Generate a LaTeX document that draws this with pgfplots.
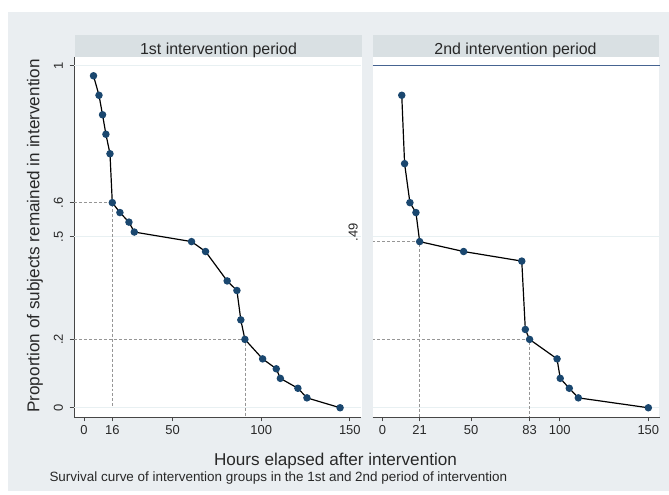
\documentclass[border=0pt]{standalone}
\usepackage{fontspec}
\setmainfont{Liberation Sans}
\usepackage{pgfplots}
\pgfplotsset{compat=1.18}
\definecolor{bgc}{RGB}{234,238,241}
\definecolor{stripc}{RGB}{217,224,227}
\definecolor{gridc}{RGB}{232,240,242}
\definecolor{mk}{RGB}{26,71,111}
\definecolor{axc}{RGB}{70,70,70}
\definecolor{txt}{RGB}{40,40,40}
\definecolor{refc}{RGB}{150,150,150}
\definecolor{bluel}{RGB}{70,100,145}
\newcommand{\tks}{\fontsize{13}{15}\selectfont}
\newcommand{\stf}{\fontsize{16}{18}\selectfont}
\newcommand{\axt}{\fontsize{17.2}{19}\selectfont}
\newcommand{\ntf}{\fontsize{13.5}{15}\selectfont}
\pgfplotsset{panel/.style={
  scale only axis, width=287bp, height=360bp,
  xmin=-5.6, xmax=156.3, ymin=-0.027, ymax=1.026,
  axis x line*=bottom,
  axis line style={axc, line width=0.8bp, -},
  tick align=outside,
  major tick length=4.5bp,
  tick style={axc, line width=0.8bp},
  ticklabel style={font=\tks, text=txt},
  major grid style={gridc, line width=1bp},
  clip=false,
},
refline/.style={refc, densely dashed, line width=0.6bp, forget plot},
km/.style={black, line width=1.2bp, mark=*, mark size=3.1bp, mark options={fill=mk, draw=mk}},
}
\begin{document}
\begin{tikzpicture}[x=1bp,y=1bp]
\useasboundingbox (0,0) rectangle (669,495);
\fill[white] (0,0) rectangle (669,495);
\fill[bgc] (8,4) rectangle (669,483);
\fill[stripc] (75,438) rectangle (362,460);
\fill[stripc] (372.5,438) rectangle (659,460);
\fill[white] (74,78) rectangle (361.5,438);
\fill[white] (372.5,78) rectangle (659,438);
\node[font=\stf, text=txt, anchor=base] at (218.5,440.5) {1st intervention period};
\node[font=\stf, text=txt, anchor=base] at (515.5,440.5) {2nd intervention period};

\begin{axis}[panel, at={(74bp,78bp)}, anchor=south west,
  axis y line*=left,
  xtick={0,16,50,100,150}, xticklabels={0,16,50,100,150},
  ytick={0,0.2,0.5,0.6,1}, yticklabels={0,.2,.5,.6,1},
  yticklabel style={rotate=90, anchor=south},
  yticklabel shift=3bp,
  extra y ticks={0,0.5,1}, extra y tick labels={},
  extra y tick style={grid=major, major tick length=0pt},
]
\addplot[refline] coordinates {(-5.6,0.6) (16,0.6) (16,0)};
\addplot[refline] coordinates {(-5.6,0.2) (90.8,0.2) (90.8,-0.027)};
\addplot[km] coordinates {
(5.4,0.971) (8.5,0.914) (10.5,0.857) (12.4,0.800) (14.7,0.743) (16,0.600)
(20.3,0.571) (25.4,0.543) (28.4,0.514) (60.7,0.486) (68.6,0.457) (80.8,0.371)
(86.3,0.343) (88.5,0.257) (90.8,0.200) (100.8,0.143) (108.5,0.114) (110.8,0.086)
(120.7,0.057) (125.8,0.029) (144.5,0)};
\end{axis}

\begin{axis}[panel, at={(372.5bp,78bp)}, anchor=south west,
  axis y line*=left,
  y axis line style={draw=none},
  xtick={0,21,50,83,100,150}, xticklabels={0,21,50,83,100,150},
  ytick={0.486}, yticklabels={.49},
  ytick style={draw=none},
  yticklabel style={rotate=90, anchor=south west, inner sep=0pt},
  yticklabel shift=10bp,
  extra y ticks={0,0.5}, extra y tick labels={},
  extra y tick style={grid=major, major tick length=0pt},
]
\addplot[bluel, line width=1.2bp, forget plot] coordinates {(-5.6,1) (156.3,1)};
\addplot[refline] coordinates {(-5.6,0.486) (21,0.486) (21,-0.027)};
\addplot[refline] coordinates {(-5.6,0.2) (83,0.2) (83,-0.027)};
\addplot[km] coordinates {
(10.9,0.914) (12.5,0.714) (15.5,0.600) (18.9,0.571) (21,0.486) (45.8,0.457)
(78.6,0.429) (80.6,0.229) (83,0.200) (98.5,0.143) (100.3,0.086) (105.4,0.057)
(110.5,0.029) (150,0)};
\end{axis}

\node[rotate=90, font=\axt, text=txt] at (35,259) {Proportion of subjects remained in intervention};
\node[font=\axt, text=txt, anchor=base] at (335.5,29) {Hours elapsed after intervention};
\node[font=\ntf, text=txt, anchor=base west] at (46,13) {Survival curve of intervention groups in the 1st and 2nd period of intervention};
\end{tikzpicture}
\end{document}
